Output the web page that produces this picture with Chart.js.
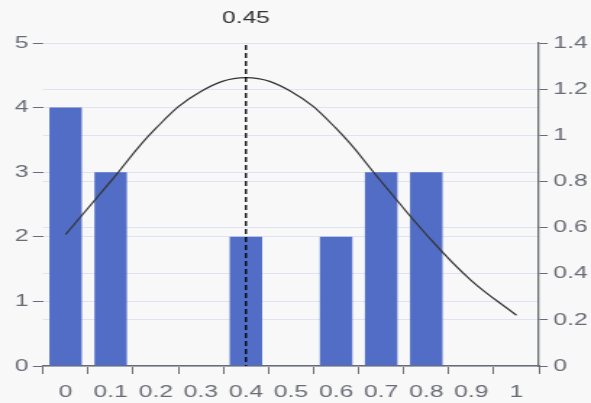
<!DOCTYPE html>
<html>
<head>
<meta charset="utf-8">
<script src="https://cdn.jsdelivr.net/npm/chart.js@4"></script>
<style>
  html, body { margin: 0; padding: 0; background: #f8f8f8; overflow: hidden; }
  #wrap { width: 408px; height: 403px; transform: scaleX(1.4485); transform-origin: 0 0; }
</style>
</head>
<body>
<div id="wrap"><canvas id="c"></canvas></div>
<script>
const categories = ['0', '0.1', '0.2', '0.3', '0.4', '0.5', '0.6', '0.7', '0.8', '0.9', '1'];
const counts = [4, 3, 0, 0, 2, 0, 2, 3, 3, 0, 0];
const density = [0.57, 0.80, 1.03, 1.19, 1.25, 1.19, 1.03, 0.80, 0.57, 0.37, 0.22];
const leftTicks = [0, 1, 2, 3, 4, 5];
const rightTicks = [0, 0.2, 0.4, 0.6, 0.8, 1, 1.2, 1.4];
const markLabel = '0.45';
const markCategory = '0.4';

const FONT = { family: '"Liberation Sans", Arial, sans-serif', size: 17 };
const AXIS = '#6a6c75';
const GRID = '#dde3f2';

const markLine = {
  id: 'markLine',
  afterDatasetsDraw(chart) {
    const { ctx, chartArea } = chart;
    const xs = chart.scales.x;
    const x = xs.getPixelForValue(categories.indexOf(markCategory));
    ctx.save();
    ctx.strokeStyle = '#000';
    ctx.lineWidth = 1.3;
    ctx.setLineDash([5, 3]);
    ctx.beginPath();
    ctx.moveTo(x, chartArea.top + 2);
    ctx.lineTo(x, chartArea.bottom);
    ctx.stroke();
    ctx.setLineDash([]);
    ctx.fillStyle = '#333';
    ctx.font = FONT.size + 'px ' + FONT.family;
    ctx.textAlign = 'center';
    ctx.textBaseline = 'middle';
    ctx.fillText(markLabel, x, 18);
    ctx.restore();
  }
};

new Chart(document.getElementById('c'), {
  type: 'bar',
  data: {
    labels: categories,
    datasets: [
      {
        type: 'line',
        data: density,
        yAxisID: 'y1',
        borderColor: '#333',
        borderWidth: 1.2,
        pointRadius: 0,
        tension: 0.4,
        fill: false,
        order: 0
      },
      {
        type: 'bar',
        data: counts,
        yAxisID: 'y',
        backgroundColor: '#516dc6',
        borderWidth: 0,
        order: 1
      }
    ]
  },
  options: {
    responsive: true,
    maintainAspectRatio: false,
    animation: false,
    layout: { padding: { top: 43, left: 0, right: 0, bottom: 0 } },
    plugins: { legend: { display: false }, tooltip: { enabled: false } },
    scales: {
      x: {
        offset: true,
        grid: { offset: true, drawOnChartArea: false, drawTicks: true, tickLength: 8, tickColor: AXIS, lineWidth: 1 },
        border: { display: true, color: AXIS, width: 1.5 },
        ticks: { color: AXIS, font: FONT, padding: 8, maxRotation: 0, autoSkip: false },
        afterFit(s) { s.height = 37; }
      },
      y: {
        position: 'left',
        min: 0, max: 5,
        afterBuildTicks(s) { s.ticks = leftTicks.map(v => ({ value: v })); },
        grid: { color: GRID, tickColor: AXIS, tickLength: 7, lineWidth: 1 },
        border: { display: false },
        ticks: { color: AXIS, font: FONT, padding: 3 },
        afterFit(s) { s.width = 29.7; }
      },
      y1: {
        position: 'right',
        min: 0, max: 1.4,
        afterBuildTicks(s) { s.ticks = rightTicks.map(v => ({ value: v })); },
        grid: { color: GRID, tickColor: AXIS, tickLength: 6, lineWidth: 1 },
        border: { display: true, color: AXIS, width: 1.3 },
        ticks: { color: AXIS, font: FONT, padding: 4, callback: v => String(Math.round(v * 10) / 10) },
        afterFit(s) { s.width = 35.9; }
      }
    }
  },
  plugins: [markLine]
});
</script>
</body>
</html>
